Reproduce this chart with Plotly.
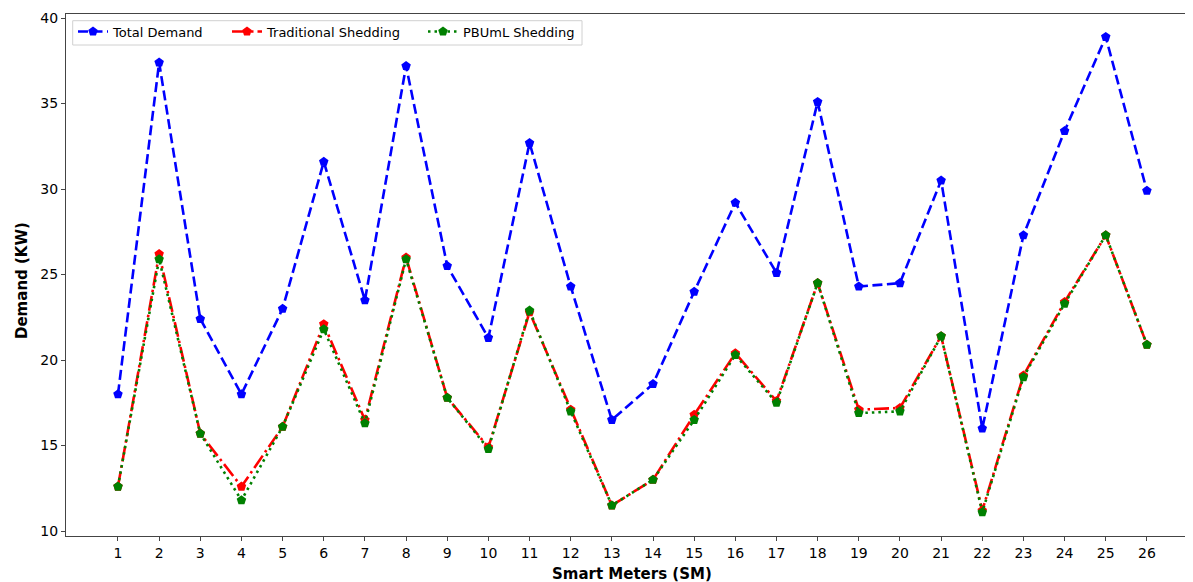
import plotly.graph_objects as go

meters = list(range(1, 27))
total_demand = [18.0, 37.4, 22.4, 18.0, 23.0, 31.6, 23.5, 37.2, 25.5, 21.3, 32.7, 24.3, 16.5,
                18.6, 24.0, 29.2, 25.1, 35.1, 24.3, 24.5, 30.5, 16.0, 27.3, 33.4, 38.9, 29.9]
traditional = [12.6, 26.2, 15.7, 12.6, 16.1, 22.1, 16.5, 26.0, 17.8, 14.9, 22.8, 17.1, 11.5,
               13.0, 16.8, 20.4, 17.6, 24.5, 17.1, 17.2, 21.4, 11.2, 19.1, 23.4, 27.3, 20.9]
pbuml = [12.6, 25.9, 15.7, 11.8, 16.1, 21.8, 16.3, 25.9, 17.8, 14.8, 22.9, 17.0, 11.5,
         13.0, 16.5, 20.3, 17.5, 24.5, 16.9, 17.0, 21.4, 11.1, 19.0, 23.3, 27.3, 20.9]
y_ticks = [10, 15, 20, 25, 30, 35, 40]

FONT = "DejaVu Sans"

# plot area in page pixels: left 66, right 1193, top 14, bottom 536 (page has 8px body margin)
PW, PH = 1127, 522


def px(x):
    return (x - 66) / PW


def py(y):
    return (536 - y) / PH


fig = go.Figure()
fig.add_trace(go.Scatter(
    x=meters, y=total_demand, name="Total Demand", mode="lines+markers", legend="legend",
    line=dict(color="#0000ff", width=2.6, dash="10px,4.5px"),
    marker=dict(symbol="pentagon", size=10, color="#0000ff")))
fig.add_trace(go.Scatter(
    x=meters, y=traditional, name="Traditional Shedding", mode="lines+markers", legend="legend2",
    line=dict(color="#ff0000", width=2.6, dash="15px,4px,2.5px,4px"),
    marker=dict(symbol="pentagon", size=10, color="#ff0000")))
fig.add_trace(go.Scatter(
    x=meters, y=pbuml, name="PBUmL Shedding", mode="lines+markers", legend="legend3",
    line=dict(color="#008000", width=2.6, dash="2.5px,4px"),
    marker=dict(symbol="pentagon", size=10, color="#008000")))

leg_common = dict(orientation="h", xanchor="left", yanchor="top", y=py(16.5),
                  bgcolor="rgba(0,0,0,0)", borderwidth=0,
                  font=dict(family=FONT, size=13, color="#000000"))

fig.update_layout(
    width=1185, height=574,
    margin=dict(l=58, r=0, t=6, b=46, autoexpand=False),
    paper_bgcolor="white", plot_bgcolor="white",
    font=dict(family=FONT, size=14, color="#000000"),
    showlegend=True,
    legend=dict(x=px(73), **leg_common),
    legend2=dict(x=px(227), **leg_common),
    legend3=dict(x=px(423), **leg_common),
    xaxis=dict(range=[-0.263, 27.12], tickmode="array", tickvals=meters,
               ticktext=[str(m) for m in meters],
               showgrid=False, zeroline=False, showline=True, linecolor="#444444",
               linewidth=1, mirror=True, ticks="outside", ticklen=4, tickcolor="#444444",
               tickfont=dict(family=FONT, size=14)),
    yaxis=dict(range=[9.71, 40.24], tickmode="array", tickvals=y_ticks,
               showgrid=False, zeroline=False, showline=True, linecolor="#444444",
               linewidth=1, ticks="outside", ticklen=4, tickcolor="#444444",
               tickfont=dict(family=FONT, size=14)),
    shapes=[
        dict(type="rect", xref="paper", yref="paper",
             x0=px(72.7), x1=px(582), y0=py(45), y1=py(20.7),
             line=dict(color="#d0d0d0", width=1), fillcolor="rgba(255,255,255,0.8)",
             layer="above"),
    ],
    annotations=[
        dict(text="<b>Smart Meters (SM)</b>", xref="paper", yref="paper",
             x=px(632), y=py(574), xanchor="center", yanchor="middle",
             showarrow=False, font=dict(family=FONT, size=15)),
        dict(text="<b>Demand (KW)</b>", xref="paper", yref="paper",
             x=px(22), y=py(281), xanchor="center", yanchor="middle",
             textangle=-90, showarrow=False, font=dict(family=FONT, size=15)),
    ],
)

fig.write_html("out.html")
